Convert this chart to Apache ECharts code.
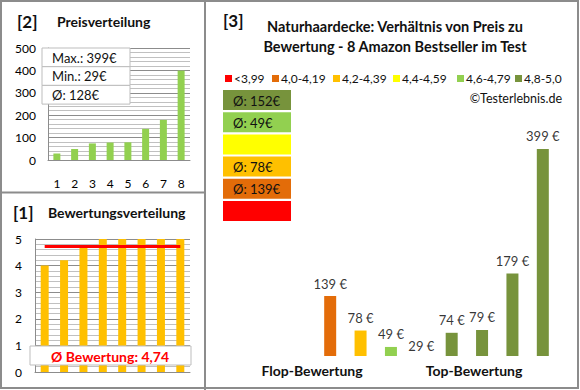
<!DOCTYPE html>
<html><head><meta charset="utf-8">
<script src="https://cdn.jsdelivr.net/npm/echarts@6/dist/echarts.min.js"></script>
<style>html,body{margin:0;padding:0;background:#fff}#c{width:580px;height:390px}</style>
</head><body><div id="c"></div>
<script>
// ---- data ----
const priceCategories = ['1','2','3','4','5','6','7','8'];
const pricesSorted = [29, 49, 74, 78, 79, 139, 179, 399];
const ratingsSorted = [4.0, 4.2, 4.7, 5.0, 5.0, 5.0, 5.0, 5.0];
const avgRating = 4.74;
const productPrices = [139, 78, 49, 29, 74, 79, 179, 399];
const productRatings = [4.0, 4.2, 4.7, 5.0, 5.0, 5.0, 5.0, 5.0];
const bandLabels = ['<3,99', '4,0-4,19', '4,2-4,39', '4,4-4,59', '4,6-4,79', '4,8-5,0'];
const bandLows = [0, 4.0, 4.2, 4.4, 4.6, 4.8];
const bandColors = ['#FF0000', '#E36C09', '#FFC000', '#FFFF00', '#92D050', '#77933C'];
const groupLabels = ['Flop-Bewertung', 'Top-Bewertung'];

const FONT = 'Lato';
function bandOf(r){ let b=0; for(let i=0;i<bandLows.length;i++){ if(r>=bandLows[i]-1e-9) b=i; } return b; }
const maxP = Math.max(...pricesSorted), minP = Math.min(...pricesSorted);
const avgP = Math.round(pricesSorted.reduce((a,b)=>a+b,0)/pricesSorted.length);
const bandAvg = bandLabels.map((_,i)=>{
  const ps = productPrices.filter((p,k)=>bandOf(productRatings[k])===i);
  return ps.length ? Math.round(ps.reduce((a,b)=>a+b,0)/ps.length) : null;
});

const chart = echarts.init(document.getElementById('c'), null, {renderer:'svg'});
const gray = '#8c8c8c', minorGray = '#c0c0c0';
const axisLbl = {color:'#000', fontSize:12, fontFamily:FONT};

const graphic = [];
// frames
graphic.push({type:'rect', shape:{x:1,y:1,width:577,height:387}, style:{fill:null, stroke:gray, lineWidth:2}, z:100});
graphic.push({type:'line', shape:{x1:205,y1:0,x2:205,y2:390}, style:{stroke:gray, lineWidth:2}, z:100});
graphic.push({type:'line', shape:{x1:0,y1:192.5,x2:205,y2:192.5}, style:{stroke:gray, lineWidth:2}, z:100});
// titles
function txt(x,y,t,opt){ return Object.assign({type:'text', x:x, y:y, z:100, style:Object.assign({text:t, fontFamily:FONT, fontSize:14, fontWeight:'bold', fill:'#111', textVerticalAlign:'middle'}, opt||{})}); }
graphic.push(txt(17,21,'[2]',{fontSize:17}));
graphic.push(txt(57,21,'Preisverteilung'));
graphic.push(txt(13,212,'[1]',{fontSize:17}));
graphic.push(txt(48,212,'Bewertungsverteilung'));
graphic.push(txt(223,20,'[3]',{fontSize:17}));
graphic.push(txt(395,26,'Naturhaardecke: Verhältnis von Preis zu',{textAlign:'center', fontSize:14.5}));
graphic.push(txt(395,46,'Bewertung - 8 Amazon Bestseller im Test',{textAlign:'center', fontSize:14.5}));
// price summary box
const sumRows = ['Max.: '+maxP+'€', 'Min.: '+minP+'€', 'Ø: '+avgP+'€'];
sumRows.forEach((t,i)=>{
  graphic.push({type:'rect', z:90, shape:{x:42, y:48+i*18.7, width:88, height:18.7}, style:{fill:'#fff', stroke:'#bdbdbd', lineWidth:1}});
  graphic.push(txt(52, 48+i*18.7+9.5, t, {fontWeight:'normal', fontSize:13, fill:'#111'}));
});
// rating average box
graphic.push({type:'rect', z:90, shape:{x:30, y:346, width:161, height:19}, style:{fill:'#fff', stroke:'#bdbdbd', lineWidth:1}});
graphic.push(txt(110, 356, 'Ø Bewertung: ' + avgRating.toFixed(2).replace('.', ','), {textAlign:'center', fill:'#FF0000', fontSize:14}));
// legend
const legX = [225, 272, 333, 393, 457, 515];
bandLabels.forEach((l,i)=>{
  graphic.push({type:'rect', z:100, shape:{x:legX[i], y:75, width:7, height:7}, style:{fill:bandColors[i]}});
  graphic.push(txt(legX[i]+9, 78.5, l, {fontWeight:'normal', fontSize:12, fill:'#111'}));
});
graphic.push(txt(562, 98, '©Testerlebnis.de', {fontWeight:'normal', fontSize:12.5, fill:'#111', textAlign:'right'}));
// band average boxes (top: best band)
for(let k=0;k<6;k++){
  const i = 5-k;
  const y = 90 + k*22.2;
  graphic.push({type:'rect', z:90, shape:{x:223, y:y, width:68, height:20}, style:{fill:bandColors[i]}});
  if(bandAvg[i]!==null) graphic.push(txt(233, y+10.5, 'Ø: '+bandAvg[i]+'€', {fontWeight:'normal', fontSize:13, fill:'#111'}));
}
// group labels
graphic.push(txt(312, 370, groupLabels[0], {textAlign:'center'}));
graphic.push(txt(474, 370, groupLabels[1], {textAlign:'center'}));

const option = {
  animation:false,
  backgroundColor:'#fff',
  grid:[
    {left:48, top:48, width:142, height:112},
    {left:35, top:239, width:155, height:133},
    {left:315, top:137, width:243, height:219}
  ],
  xAxis:[
    {type:'category', gridIndex:0, data:priceCategories, axisTick:{show:false}, axisLine:{lineStyle:{color:gray}}, axisLabel:Object.assign({margin:17}, axisLbl)},
    {type:'category', gridIndex:1, data:priceCategories, axisTick:{show:false}, axisLine:{lineStyle:{color:gray}}, axisLabel:{show:false}},
    {type:'category', gridIndex:2, data:productPrices.map(String), show:false}
  ],
  yAxis:[
    {type:'value', gridIndex:0, min:0, max:500, interval:100, axisLine:{show:true, lineStyle:{color:gray}}, axisTick:{show:false},
     splitLine:{lineStyle:{color:gray}}, minorTick:{show:false, splitNumber:5}, minorSplitLine:{show:true, lineStyle:{color:minorGray}}, axisLabel:Object.assign({margin:12}, axisLbl)},
    {type:'value', gridIndex:1, min:0, max:5, interval:1, axisLine:{show:true, lineStyle:{color:gray}}, axisTick:{show:false},
     splitLine:{lineStyle:{color:gray}}, minorTick:{show:false, splitNumber:5}, minorSplitLine:{show:true, lineStyle:{color:minorGray}}, axisLabel:Object.assign({margin:13}, axisLbl)},
    {type:'value', gridIndex:2, min:33, max:420, show:false, splitLine:{show:false}}
  ],
  series:[
    {type:'bar', xAxisIndex:0, yAxisIndex:0, data:pricesSorted, barWidth:7, itemStyle:{color:'#92D050'}},
    {type:'bar', xAxisIndex:1, yAxisIndex:1, data:ratingsSorted, barWidth:8, itemStyle:{color:'#FFC000'},
     markLine:{silent:true, symbol:'none', label:{show:false}, lineStyle:{color:'#FF0000', width:3, type:'solid'},
       data:[[{coord:[0, avgRating]}, {coord:[7, avgRating]}]]}},
    {type:'bar', xAxisIndex:2, yAxisIndex:2, barWidth:12,
     data:productPrices.map((p,k)=>({value:p, itemStyle:{color:bandColors[bandOf(productRatings[k])]}}))},
    {type:'scatter', xAxisIndex:2, yAxisIndex:2, symbolSize:0, clip:false, silent:true, data:productPrices,
     label:{show:true, position:'top', distance:6, formatter:'{c} €', color:'#000', fontSize:13, fontFamily:FONT}}
  ],
  graphic:graphic
};
chart.setOption(option);
</script></body></html>
